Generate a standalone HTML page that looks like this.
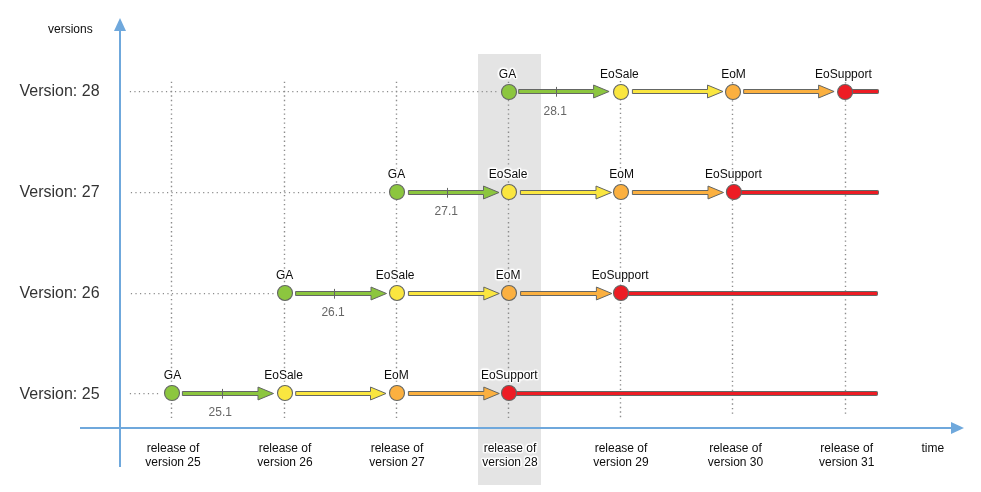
<!DOCTYPE html>
<html lang="en">
<head>
<meta charset="utf-8">
<title>Version lifecycle timeline</title>
<style>
html,body{margin:0;padding:0;background:#fff}
body{width:981px;height:492px;overflow:hidden;position:relative;font-family:"Liberation Sans",Arial,Helvetica,sans-serif}
#diagram{position:absolute;left:0;top:0;width:981px;height:492px}
svg{position:absolute;left:0;top:0;display:block}
.t{position:absolute;white-space:nowrap;line-height:14px;height:14px;font-size:12px;color:#0d0d0d;text-shadow:-1px -1px 1px #fff,-1px 0px 1px #fff,-1px 1px 1px #fff,0px -1px 1px #fff,0px 1px 1px #fff,1px -1px 1px #fff,1px 0px 1px #fff,1px 1px 1px #fff,-1px -1px 2px #fff,-1px 0px 2px #fff,-1px 1px 2px #fff,0px -1px 2px #fff,0px 1px 2px #fff,1px -1px 2px #fff,1px 0px 2px #fff,1px 1px 2px #fff,0 0 3px #fff,0 0 3px #fff}
.c{transform:translateX(-50%);text-align:center}
.v{font-size:16px;line-height:18px;height:18px;color:#333}
.g{color:#666}
</style>
</head>
<body>
<div id="diagram">
<svg width="981" height="492" viewBox="0 0 981 492">
<rect x="478" y="54" width="63" height="431" fill="#e4e4e4"/>
<line x1="171.5" y1="81.75" x2="171.5" y2="418.2" stroke="#8c8c8c" stroke-width="1.4" stroke-dasharray="1.35 3.1755"/>
<line x1="284.5" y1="81.75" x2="284.5" y2="418.2" stroke="#8c8c8c" stroke-width="1.4" stroke-dasharray="1.35 3.1755"/>
<line x1="396.5" y1="81.75" x2="396.5" y2="418.2" stroke="#8c8c8c" stroke-width="1.4" stroke-dasharray="1.35 3.1755"/>
<line x1="508.5" y1="81.75" x2="508.5" y2="418.2" stroke="#8c8c8c" stroke-width="1.4" stroke-dasharray="1.35 3.1755"/>
<line x1="620.5" y1="80.95" x2="620.5" y2="417.6" stroke="#8c8c8c" stroke-width="1.4" stroke-dasharray="1.35 3.1755"/>
<line x1="732.5" y1="82.05" x2="732.5" y2="414.6" stroke="#8c8c8c" stroke-width="1.4" stroke-dasharray="1.35 3.1755"/>
<line x1="845.5" y1="82.05" x2="845.5" y2="414.6" stroke="#8c8c8c" stroke-width="1.4" stroke-dasharray="1.35 3.1755"/>
<line x1="129.85" y1="91.5" x2="498.00" y2="91.5" stroke="#8c8c8c" stroke-width="1.25" stroke-dasharray="1.2 3.3105"/>
<line x1="130.87" y1="192.5" x2="386.00" y2="192.5" stroke="#8c8c8c" stroke-width="1.25" stroke-dasharray="1.2 3.315"/>
<line x1="130.87" y1="293.5" x2="274.00" y2="293.5" stroke="#8c8c8c" stroke-width="1.25" stroke-dasharray="1.2 3.362"/>
<line x1="129.85" y1="393.5" x2="161.00" y2="393.5" stroke="#8c8c8c" stroke-width="1.25" stroke-dasharray="1.2 3.31"/>
<line x1="120" y1="30" x2="120" y2="467" stroke="#6fa8dc" stroke-width="2"/>
<polygon points="120,18 114,31 126,31" fill="#6fa8dc"/>
<line x1="80" y1="427.9" x2="952" y2="427.9" stroke="#6fa8dc" stroke-width="2"/>
<polygon points="964,428 951,422 951,434" fill="#6fa8dc"/>
<rect x="845.1" y="89.50" width="33.40" height="4" rx="0.8" fill="#ed1c24" stroke="#646664" stroke-width="1"/>
<polygon points="518.70,89.50 593.60,89.50 593.60,85.05 609.10,91.50 593.60,97.95 593.60,93.50 518.70,93.50" fill="#8cc63f" stroke="#646664" stroke-width="1" stroke-linejoin="miter"/>
<polygon points="632.40,89.50 707.50,89.50 707.50,85.05 723.00,91.50 707.50,97.95 707.50,93.50 632.40,93.50" fill="#fae640" stroke="#646664" stroke-width="1" stroke-linejoin="miter"/>
<polygon points="743.65,89.50 818.60,89.50 818.60,85.05 834.10,91.50 818.60,97.95 818.60,93.50 743.65,93.50" fill="#fbb040" stroke="#646664" stroke-width="1" stroke-linejoin="miter"/>
<line x1="556.5" y1="86.90" x2="556.5" y2="96.70" stroke="#646664" stroke-width="1"/>
<circle cx="509.0" cy="92.0" r="7.5" fill="#8cc63f" stroke="#646664" stroke-width="1.12"/>
<circle cx="621.0" cy="92.0" r="7.5" fill="#fae640" stroke="#646664" stroke-width="1.12"/>
<circle cx="733.0" cy="92.0" r="7.5" fill="#fbb040" stroke="#646664" stroke-width="1.12"/>
<circle cx="845.1" cy="92.0" r="7.5" fill="#ed1c24" stroke="#646664" stroke-width="1.12"/>
<rect x="733.9" y="190.50" width="144.60" height="4" rx="0.8" fill="#ed1c24" stroke="#646664" stroke-width="1"/>
<polygon points="408.40,190.50 483.50,190.50 483.50,186.05 499.00,192.50 483.50,198.95 483.50,194.50 408.40,194.50" fill="#8cc63f" stroke="#646664" stroke-width="1" stroke-linejoin="miter"/>
<polygon points="520.40,190.50 596.00,190.50 596.00,186.05 611.50,192.50 596.00,198.95 596.00,194.50 520.40,194.50" fill="#fae640" stroke="#646664" stroke-width="1" stroke-linejoin="miter"/>
<polygon points="632.40,190.50 708.00,190.50 708.00,186.05 723.50,192.50 708.00,198.95 708.00,194.50 632.40,194.50" fill="#fbb040" stroke="#646664" stroke-width="1" stroke-linejoin="miter"/>
<line x1="447.5" y1="187.90" x2="447.5" y2="197.70" stroke="#646664" stroke-width="1"/>
<circle cx="397.0" cy="192.0" r="7.5" fill="#8cc63f" stroke="#646664" stroke-width="1.12"/>
<circle cx="509.0" cy="192.0" r="7.5" fill="#fae640" stroke="#646664" stroke-width="1.12"/>
<circle cx="621.0" cy="192.0" r="7.5" fill="#fbb040" stroke="#646664" stroke-width="1.12"/>
<circle cx="733.9" cy="192.0" r="7.5" fill="#ed1c24" stroke="#646664" stroke-width="1.12"/>
<rect x="621.0" y="291.50" width="256.50" height="4" rx="0.8" fill="#ed1c24" stroke="#646664" stroke-width="1"/>
<polygon points="295.60,291.50 371.00,291.50 371.00,287.05 386.50,293.50 371.00,299.95 371.00,295.50 295.60,295.50" fill="#8cc63f" stroke="#646664" stroke-width="1" stroke-linejoin="miter"/>
<polygon points="408.40,291.50 483.80,291.50 483.80,287.05 499.30,293.50 483.80,299.95 483.80,295.50 408.40,295.50" fill="#fae640" stroke="#646664" stroke-width="1" stroke-linejoin="miter"/>
<polygon points="520.60,291.50 596.40,291.50 596.40,287.05 611.90,293.50 596.40,299.95 596.40,295.50 520.60,295.50" fill="#fbb040" stroke="#646664" stroke-width="1" stroke-linejoin="miter"/>
<line x1="334.5" y1="288.90" x2="334.5" y2="298.70" stroke="#646664" stroke-width="1"/>
<circle cx="285.0" cy="292.95" r="7.5" fill="#8cc63f" stroke="#646664" stroke-width="1.12"/>
<circle cx="397.0" cy="292.95" r="7.5" fill="#fae640" stroke="#646664" stroke-width="1.12"/>
<circle cx="509.0" cy="292.95" r="7.5" fill="#fbb040" stroke="#646664" stroke-width="1.12"/>
<circle cx="621.0" cy="292.95" r="7.5" fill="#ed1c24" stroke="#646664" stroke-width="1.12"/>
<rect x="509.0" y="391.50" width="368.50" height="4" rx="0.8" fill="#ed1c24" stroke="#646664" stroke-width="1"/>
<polygon points="182.40,391.50 258.00,391.50 258.00,387.05 273.50,393.50 258.00,399.95 258.00,395.50 182.40,395.50" fill="#8cc63f" stroke="#646664" stroke-width="1" stroke-linejoin="miter"/>
<polygon points="295.70,391.50 370.50,391.50 370.50,387.05 386.00,393.50 370.50,399.95 370.50,395.50 295.70,395.50" fill="#fae640" stroke="#646664" stroke-width="1" stroke-linejoin="miter"/>
<polygon points="408.40,391.50 483.80,391.50 483.80,387.05 499.30,393.50 483.80,399.95 483.80,395.50 408.40,395.50" fill="#fbb040" stroke="#646664" stroke-width="1" stroke-linejoin="miter"/>
<line x1="222.5" y1="388.90" x2="222.5" y2="398.70" stroke="#646664" stroke-width="1"/>
<circle cx="172.0" cy="393.0" r="7.5" fill="#8cc63f" stroke="#646664" stroke-width="1.12"/>
<circle cx="285.0" cy="393.0" r="7.5" fill="#fae640" stroke="#646664" stroke-width="1.12"/>
<circle cx="397.0" cy="393.0" r="7.5" fill="#fbb040" stroke="#646664" stroke-width="1.12"/>
<circle cx="509.0" cy="393.0" r="7.5" fill="#ed1c24" stroke="#646664" stroke-width="1.12"/>
</svg>
<div class="t c" style="left:507.50px;top:67px">GA</div>
<div class="t c" style="left:619.40px;top:67px">EoSale</div>
<div class="t c" style="left:733.50px;top:67px">EoM</div>
<div class="t c" style="left:843.40px;top:67px">EoSupport</div>
<div class="t c g" style="left:555.20px;top:104px">28.1</div>
<div class="t v" style="left:19.50px;top:82px">Version: 28</div>
<div class="t c" style="left:396.50px;top:167px">GA</div>
<div class="t c" style="left:508.10px;top:167px">EoSale</div>
<div class="t c" style="left:621.55px;top:167px">EoM</div>
<div class="t c" style="left:733.40px;top:167px">EoSupport</div>
<div class="t c g" style="left:446.30px;top:204px">27.1</div>
<div class="t v" style="left:19.50px;top:183px">Version: 27</div>
<div class="t c" style="left:284.70px;top:268px">GA</div>
<div class="t c" style="left:395.20px;top:268px">EoSale</div>
<div class="t c" style="left:508.20px;top:268px">EoM</div>
<div class="t c" style="left:620.20px;top:268px">EoSupport</div>
<div class="t c g" style="left:333.10px;top:305px">26.1</div>
<div class="t v" style="left:19.50px;top:284px">Version: 26</div>
<div class="t c" style="left:172.50px;top:368px">GA</div>
<div class="t c" style="left:283.60px;top:368px">EoSale</div>
<div class="t c" style="left:396.30px;top:368px">EoM</div>
<div class="t c" style="left:509.30px;top:368px">EoSupport</div>
<div class="t c g" style="left:220.30px;top:405px">25.1</div>
<div class="t v" style="left:19.50px;top:385px">Version: 25</div>
<div class="t c" style="left:173.00px;top:441px">release of</div>
<div class="t c" style="left:173.00px;top:455px">version 25</div>
<div class="t c" style="left:285.00px;top:441px">release of</div>
<div class="t c" style="left:285.00px;top:455px">version 26</div>
<div class="t c" style="left:397.00px;top:441px">release of</div>
<div class="t c" style="left:397.00px;top:455px">version 27</div>
<div class="t c" style="left:510.00px;top:441px">release of</div>
<div class="t c" style="left:510.00px;top:455px">version 28</div>
<div class="t c" style="left:621.00px;top:441px">release of</div>
<div class="t c" style="left:621.00px;top:455px">version 29</div>
<div class="t c" style="left:735.50px;top:441px">release of</div>
<div class="t c" style="left:735.50px;top:455px">version 30</div>
<div class="t c" style="left:846.70px;top:441px">release of</div>
<div class="t c" style="left:846.70px;top:455px">version 31</div>
<div class="t" style="left:48.00px;top:22px">versions</div>
<div class="t" style="left:921.50px;top:441px">time</div>
</div>
</body>
</html>
